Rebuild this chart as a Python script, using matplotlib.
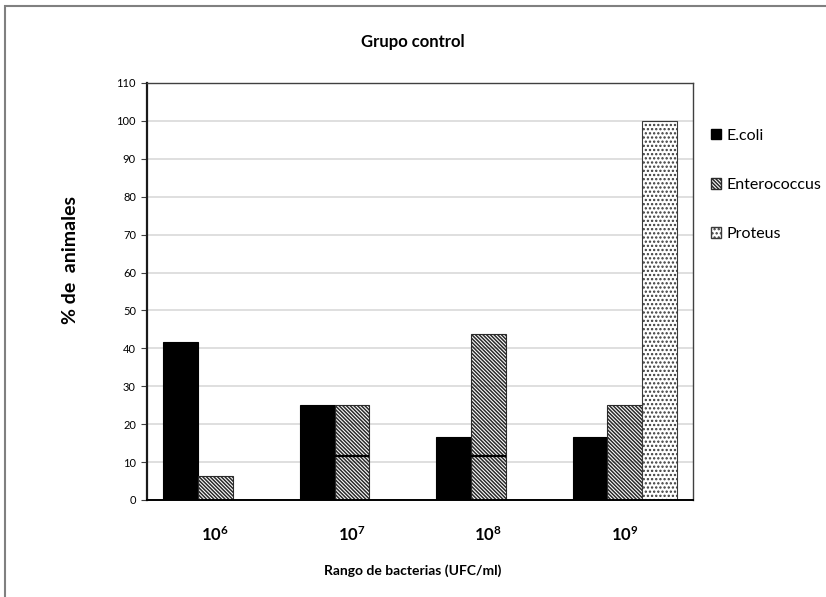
import numpy as np
import matplotlib
matplotlib.use("Agg")
import matplotlib.pyplot as plt
from matplotlib.patches import Rectangle, Patch

plt.rcParams['font.family'] = ['Lato', 'DejaVu Sans']
plt.rcParams['mathtext.fontset'] = 'custom'
plt.rcParams['mathtext.rm'] = 'Lato'
plt.rcParams['mathtext.bf'] = 'Lato:bold'
plt.rcParams['hatch.linewidth'] = 1.1

# Datos
rangos = [r'$\mathbf{10^{6}}$', r'$\mathbf{10^{7}}$', r'$\mathbf{10^{8}}$', r'$\mathbf{10^{9}}$']
ecoli = [41.7, 25.0, 16.7, 16.7]
enterococcus = [6.25, 25.0, 43.75, 25.0]
proteus = [0.0, 0.0, 0.0, 100.0]
enterococcus_marca = [np.nan, 11.6, 11.6, np.nan]
series = ['E.coli', 'Enterococcus', 'Proteus']
yticks = list(range(0, 111, 10))

HATCH_ENT = '\\' * 9
HATCH_PRO = '.' * 4

fig = plt.figure(figsize=(8.26, 5.97), dpi=100)
ax = fig.add_axes([0.178, 0.1625, 0.661, 0.6985])

x = np.arange(len(rangos))
w = 0.253

ax.set_axisbelow(True)
ax.yaxis.grid(True, color='#d9d9d9', linewidth=1.2)

ax.bar(x - w, ecoli, w, color='black', edgecolor='black', linewidth=0.8, zorder=2)
ax.bar(x, enterococcus, w, facecolor='none', edgecolor='#2a2a2a',
       hatch=HATCH_ENT, linewidth=0.8, zorder=2)
ax.bar(x + w, proteus, w, facecolor='white', edgecolor='#3a3a3a',
       hatch=HATCH_PRO, linewidth=0.8, zorder=2)
for xi, m in zip(x, enterococcus_marca):
    if not np.isnan(m):
        ax.hlines(m, xi - w / 2, xi + w / 2, color='black', linewidth=1.6, zorder=3)

ax.set_xlim(-0.5, len(rangos) - 0.5)
ax.set_ylim(0, 110)
ax.set_yticks(yticks)
ax.set_yticklabels([str(t) for t in yticks], fontsize=8)
ax.set_xticks(x)
ax.set_xticklabels(rangos, fontsize=12)
ax.tick_params(axis='x', length=0, pad=18)
ax.tick_params(axis='y', length=4, width=0.8, color='#404040', pad=4)

ax.spines['left'].set_linewidth(1.6)
ax.spines['left'].set_color('#1a1a1a')
ax.spines['bottom'].set_linewidth(1.4)
ax.spines['bottom'].set_color('black')
for s in ('top', 'right'):
    ax.spines[s].set_linewidth(1.0)
    ax.spines[s].set_color('#404040')

fig.text(0.5, 0.930, 'Grupo control', ha='center', va='center',
         fontsize=12, fontweight='bold')
fig.text(0.5, 0.044, 'Rango de bacterias (UFC/ml)', ha='center', va='center',
         fontsize=10, fontweight='bold')
fig.text(0.085, 0.565, '% de  animales', ha='center', va='center',
         rotation=90, fontsize=14, fontweight='bold')

handles = [
    Patch(facecolor='black', edgecolor='black'),
    Patch(facecolor='white', edgecolor='#2a2a2a', hatch=HATCH_ENT),
    Patch(facecolor='white', edgecolor='#3a3a3a', hatch=HATCH_PRO),
]
fig.legend(handles, series, loc='upper left', bbox_to_anchor=(0.853, 0.795),
           frameon=False, fontsize=11.5, handlelength=0.65, handleheight=0.65,
           handletextpad=0.3, labelspacing=2.2, borderaxespad=0)

# marco del gráfico
fig.patches.append(Rectangle((5 / 826, -0.1), 1.2, (597 - 6) / 597 + 0.1,
                             transform=fig.transFigure, fill=False,
                             edgecolor='#808080', linewidth=1.5))

fig.savefig('out.png', dpi=100)
